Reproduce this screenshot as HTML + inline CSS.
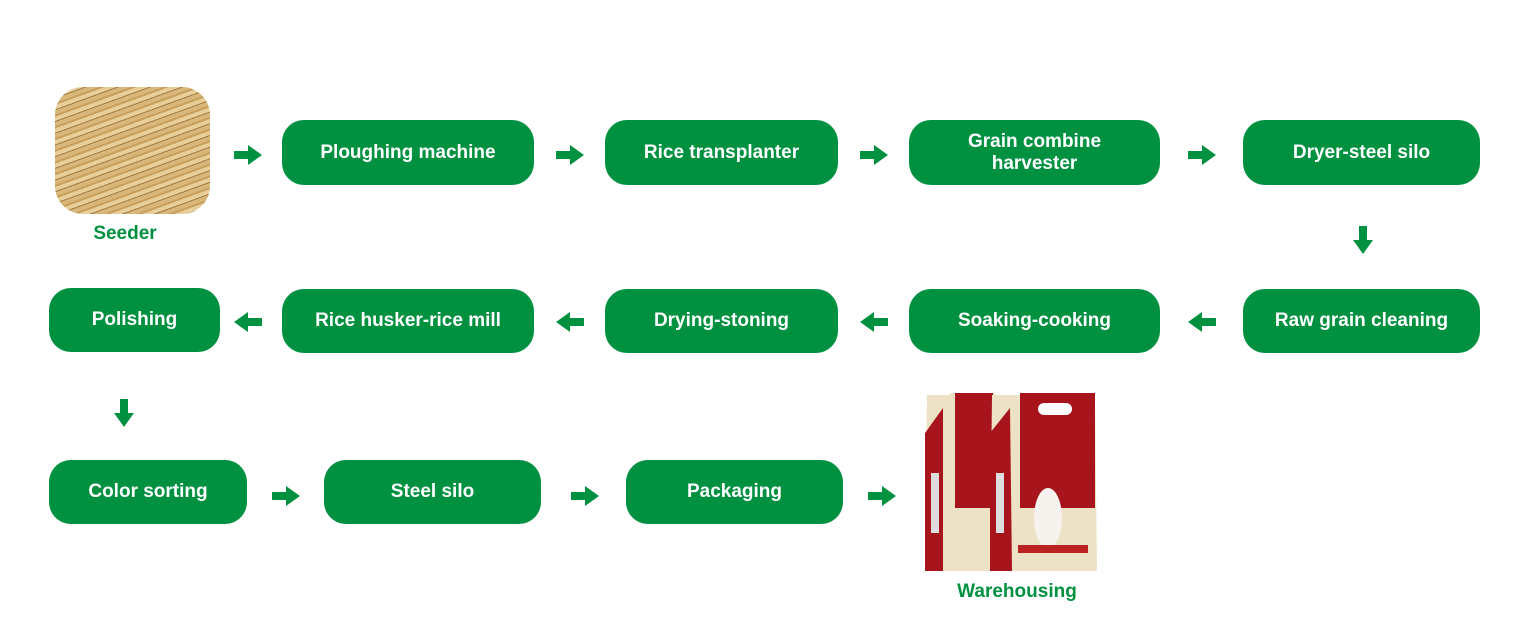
<!DOCTYPE html>
<html><head><meta charset="utf-8"><style>
body{margin:0;width:1515px;height:636px;background:#fff;position:relative;overflow:hidden;font-family:"Liberation Sans","Noto Sans CJK SC",sans-serif}
.b{position:absolute;background:#009140;color:#fff;border-radius:22px;display:flex;align-items:center;justify-content:center;text-align:center;font-weight:bold;font-size:19px;line-height:22px}
.a{position:absolute;width:28px;height:22px}
.l{position:absolute;color:#009140;font-weight:bold;font-size:19px;transform:translateX(-50%)}
</style></head><body>
<svg width="0" height="0" style="position:absolute"><defs><symbol id="ar" viewBox="0 0 28 22"><rect x="0" y="7" width="15" height="8" fill="#009140"/><polygon points="14,1 28,11 14,21" fill="#009140"/></symbol></defs></svg>

<div style="position:absolute;left:55px;top:87px;width:155px;height:127px;border-radius:28px;overflow:hidden;background:repeating-linear-gradient(160deg,#d9b77a 0 4px,#c89f5a 4px 6px,#e8cf9a 6px 10px,#a07a40 10px 11px)"></div>
<div class="l" style="left:125px;top:223px">Seeder</div>

<div class="b" style="left:282px;top:120px;width:252px;height:65px">Ploughing machine</div>
<div class="b" style="left:605px;top:120px;width:233px;height:65px">Rice transplanter</div>
<div class="b" style="left:909px;top:120px;width:251px;height:65px">Grain combine<br>harvester</div>
<div class="b" style="left:1243px;top:120px;width:237px;height:65px">Dryer-steel silo</div>

<div class="b" style="left:49px;top:288px;width:171px;height:64px">Polishing</div>
<div class="b" style="left:282px;top:289px;width:252px;height:64px">Rice husker-rice mill</div>
<div class="b" style="left:605px;top:289px;width:233px;height:64px">Drying-stoning</div>
<div class="b" style="left:909px;top:289px;width:251px;height:64px">Soaking-cooking</div>
<div class="b" style="left:1243px;top:289px;width:237px;height:64px">Raw grain cleaning</div>

<div class="b" style="left:49px;top:460px;width:198px;height:64px">Color sorting</div>
<div class="b" style="left:324px;top:460px;width:217px;height:64px">Steel silo</div>
<div class="b" style="left:626px;top:460px;width:217px;height:64px">Packaging</div>

<svg class="a" style="left:234px;top:144px"><use href="#ar"/></svg>
<svg class="a" style="left:556px;top:144px"><use href="#ar"/></svg>
<svg class="a" style="left:860px;top:144px"><use href="#ar"/></svg>
<svg class="a" style="left:1188px;top:144px"><use href="#ar"/></svg>
<svg class="a" style="left:1349px;top:229px;transform:rotate(90deg)"><use href="#ar"/></svg>
<svg class="a" style="left:234px;top:311px;transform:scaleX(-1)"><use href="#ar"/></svg>
<svg class="a" style="left:556px;top:311px;transform:scaleX(-1)"><use href="#ar"/></svg>
<svg class="a" style="left:860px;top:311px;transform:scaleX(-1)"><use href="#ar"/></svg>
<svg class="a" style="left:1188px;top:311px;transform:scaleX(-1)"><use href="#ar"/></svg>
<svg class="a" style="left:110px;top:402px;transform:rotate(90deg)"><use href="#ar"/></svg>
<svg class="a" style="left:272px;top:485px"><use href="#ar"/></svg>
<svg class="a" style="left:571px;top:485px"><use href="#ar"/></svg>
<svg class="a" style="left:868px;top:485px"><use href="#ar"/></svg>

<svg style="position:absolute;left:925px;top:393px" width="172" height="178" viewBox="0 0 172 178">
<g>
<polygon points="2,2 70,2 70,178 0,178" fill="#eee2c6"/>
<polygon points="0,40 18,15 18,178 0,178" fill="#a8141c"/>
<rect x="25" y="0" width="45" height="178" fill="#eee2c6"/>
<rect x="30" y="0" width="38" height="115" fill="#a8141c"/>
<rect x="6" y="80" width="8" height="60" fill="#ddd"/>
</g>
<g transform="translate(65,0)">
<polygon points="2,2 105,2 107,178 0,178" fill="#eee2c6"/>
<polygon points="0,40 20,15 22,178 0,178" fill="#a8141c"/>
<rect x="30" y="0" width="75" height="115" fill="#a8141c"/>
<rect x="48" y="10" width="34" height="12" rx="6" fill="#fff"/>
<rect x="6" y="80" width="8" height="60" fill="#ddd"/>
<ellipse cx="58" cy="125" rx="14" ry="30" fill="#f6f3ee"/>
<rect x="28" y="152" width="70" height="8" fill="#b22"/>
</g>
</svg>
<div class="l" style="left:1017px;top:581px">Warehousing</div>
</body></html>
